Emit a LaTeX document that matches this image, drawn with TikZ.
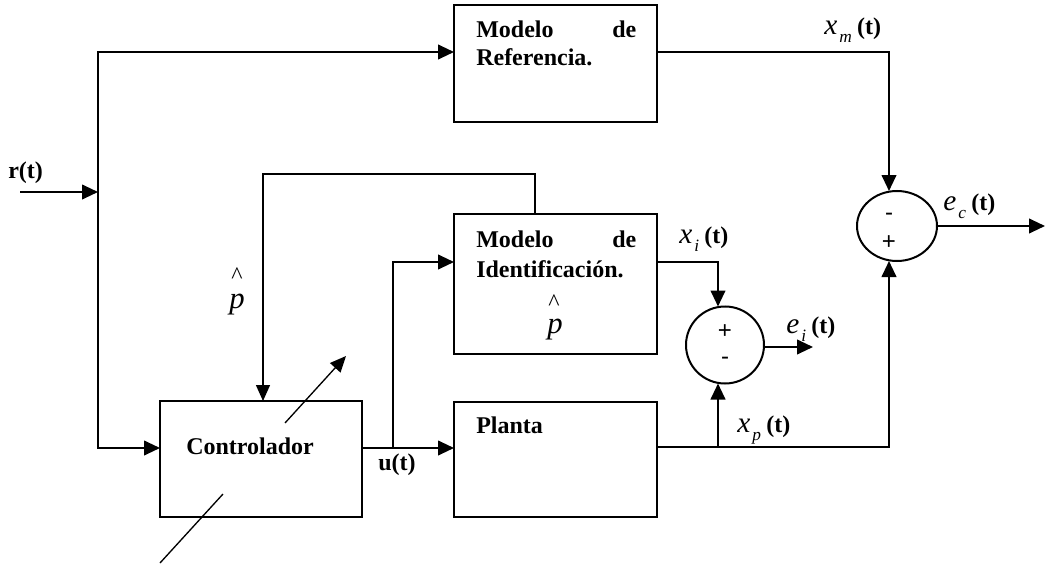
\documentclass[tikz,border=0pt]{standalone}
\usepackage{fontspec}
\setmainfont{Liberation Serif}
\newfontfamily\signfont{Liberation Sans}
\usetikzlibrary{arrows.meta,shapes.geometric}

% signal label: italic variable, italic subscript, bold (t)
\newcommand\sigl[2]{{\itshape\fontsize{22pt}{22pt}\selectfont #1}\hspace{1.5pt}\raisebox{-6pt}{\itshape\fontsize{13pt}{13pt}\selectfont #2}\hspace{4pt}{\bfseries\fontsize{18pt}{18pt}\selectfont (t)}}
% tight boxes for the hat and the estimated parameter
\newcommand\hatmark{\raisebox{0pt}[12.5pt][-8.5pt]{\^{}}}
\newcommand\pvar{\raisebox{0pt}[10.5pt][5pt]{p}}

\begin{document}
\begin{tikzpicture}[x=0.75pt,y=-0.75pt,
  blk/.style={draw,line width=1.5pt,inner sep=0pt,outer sep=0pt},
  sumj/.style={draw,ellipse,line width=1.5pt,inner sep=0pt,outer sep=0pt},
  wire/.style={line width=1.5pt},
  arr/.style={wire,-{Triangle[length=12pt,width=11pt]}},
  thinwire/.style={line width=1pt},
  thinarr/.style={thinwire,-{Triangle[length=12pt,width=10.5pt]}},
  txt/.style={inner sep=0pt,anchor=base west,font=\bfseries\fontsize{18pt}{21pt}\selectfont},
  sgn/.style={inner sep=0pt,font=\signfont\fontsize{18pt}{18pt}\selectfont},
  hatc/.style={inner sep=0pt,anchor=base,font=\fontsize{18pt}{18pt}\selectfont},
  pv/.style={inner sep=0pt,anchor=base,font=\itshape\fontsize{23pt}{23pt}\selectfont}]
\useasboundingbox (0,0) rectangle (1047,567);

% blocks
\node[blk,minimum width=152.25pt,minimum height=87.75pt] (ref) at (555.5,63.5) {};
\node[blk,minimum width=152.25pt,minimum height=105pt] (ident) at (555.5,284) {};
\node[blk,minimum width=152.25pt,minimum height=86.25pt] (planta) at (555.5,459.5) {};
\node[blk,minimum width=151.5pt,minimum height=87pt] (ctrl) at (261,459) {};

% summing junctions
\node[sumj,minimum width=58.5pt,minimum height=57.75pt] (ei) at (725,345) {};
\node[sumj,minimum width=60pt,minimum height=52.5pt] (ec) at (897,226) {};

% block texts
\node[txt] (refa) at (476,38) {\makebox[120pt]{Modelo\hfill de}};
\node[txt] (refb) at (476,66) {Referencia.};
\node[txt] (ida) at (476,247) {\makebox[120pt]{Modelo\hfill de}};
\node[txt] (idb) at (476,277) {Identificación.};
\node[txt] (plt) at (476,433) {Planta};
\node[txt] (ctl) at (186,454) {Controlador};

% estimated parameter
\node[hatc] (hat1) at (237,283) {\hatmark};
\node[pv] (p1) at (237,308) {\pvar};
\node[hatc] (hat2) at (554,310) {\hatmark};
\node[pv] (p2) at (555,333) {\pvar};

% junction signs
\node[sgn] (eip) at (725,332) {+};
\node[sgn] (eim) at (725,361) {-};
\node[sgn] (ecm) at (889,217) {-};
\node[sgn] (ecp) at (889,243) {+};

% signal labels
\node[txt] (rlab) at (8,178) {r(t)};
\node[txt] (ulab) at (378,470) {u(t)};
\node[inner sep=0pt,anchor=base west] (xmlab) at (824,35) {\sigl{x}{m}};
\node[inner sep=0pt,anchor=base west] (xilab) at (679,243) {\sigl{x}{i}};
\node[inner sep=0pt,anchor=base west] (xplab) at (737,432) {\sigl{x}{p}};
\node[inner sep=0pt,anchor=base west] (eilab) at (786,333) {\sigl{e}{i}};
\node[inner sep=0pt,anchor=base west] (eclab) at (943,210) {\sigl{e}{c}};

% routing points
\coordinate (rin) at (20,192);
\coordinate (split) at (98,192);
\coordinate (ltop) at (98,52);
\coordinate (lbot) at (98,448);
\coordinate (ub) at (393,448);
\coordinate (ut) at (393,262);
\coordinate (fb1) at (535,174);
\coordinate (fb2) at (263,174);
\coordinate (xmc) at (889,52);
\coordinate (xic) at (718,262);
\coordinate (xpc) at (889,447);
\coordinate (xpb) at (718,447);
\coordinate (eiout) at (813,347);
\coordinate (ecout) at (1045,226);
\coordinate (d1) at (285,423);
\coordinate (d2) at (346,356);
\coordinate (d3) at (223,494);
\coordinate (d4) at (160,563);

% reference input
\draw[arr] (rin) -- (split);
\draw[arr] (split) -- (ltop) -- (ref.west |- ltop);
\draw[arr] (split) -- (lbot) -- (ctrl.west |- lbot);

% control signal
\draw[arr] (ctrl.east |- ub) -- (planta.west |- ub);
\draw[arr] (ub) -- (ut) -- (ident.west |- ut);

% parameter feedback
\draw[thinarr] (ident.north -| fb1) -- (fb1) -- (fb2) -- (fb2 |- ctrl.north);

% outputs to the junctions
\draw[arr] (ref.east |- xmc) -- (xmc) -- (xmc |- ec.north);
\draw[arr] (ident.east |- xic) -- (xic) -- (xic |- ei.north);
\draw[arr] (planta.east |- xpc) -- (xpc) -- (xpc |- ec.south);
\draw[arr] (xpb) -- (xpb |- ei.south);

% errors
\draw[arr] (ei.east |- eiout) -- (eiout);
\draw[arr] (ec.east) -- (ecout);

% adjustable controller
\draw[thinarr] (d1) -- (d2);
\draw[thinwire] (d3) -- (d4);
\end{tikzpicture}
\end{document}
